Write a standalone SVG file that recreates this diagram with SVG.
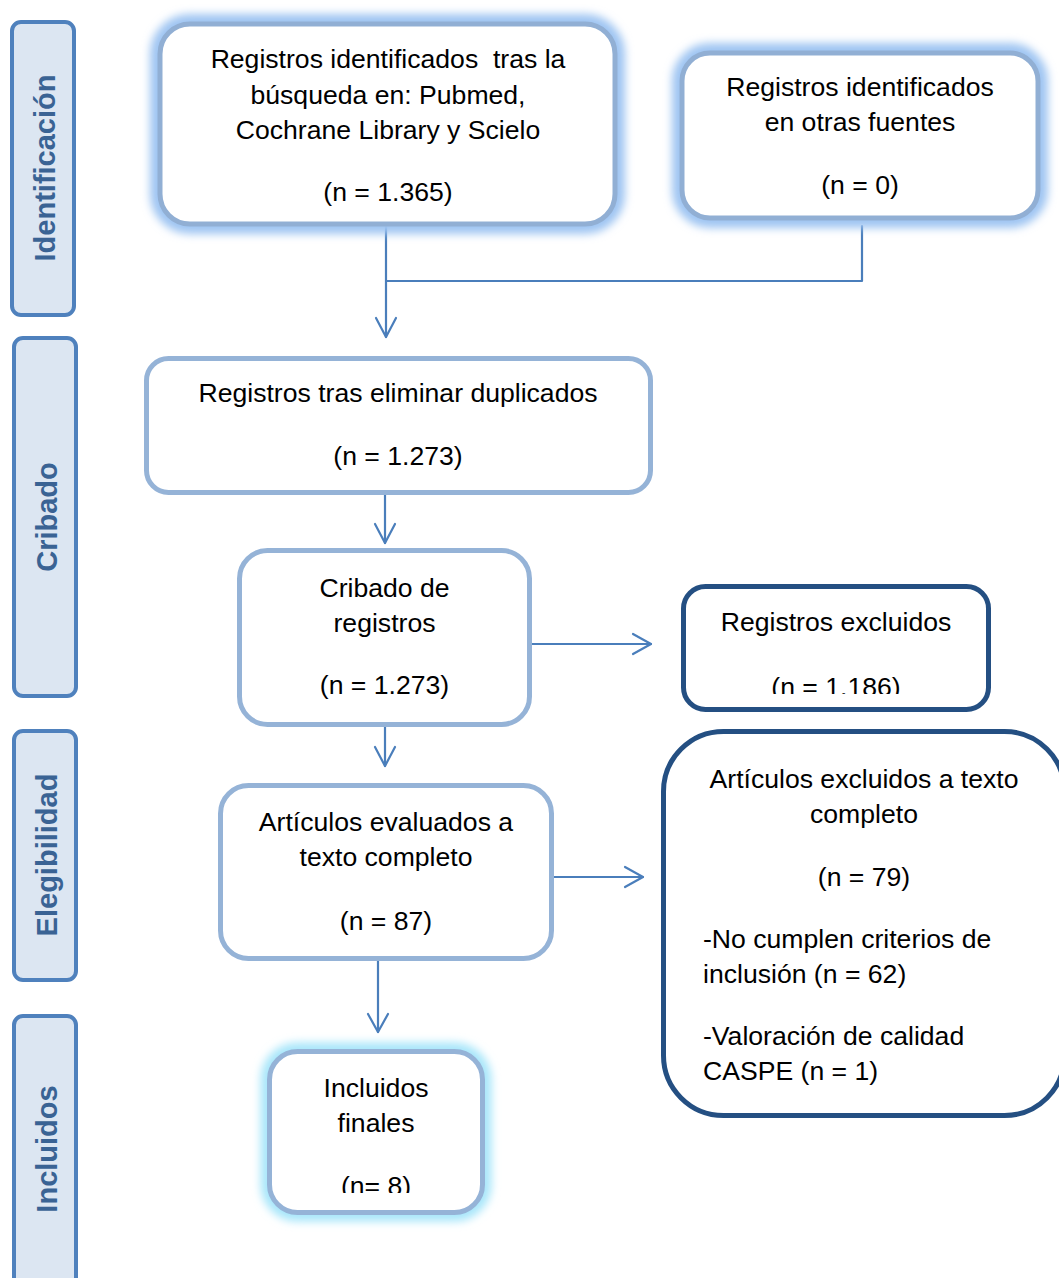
<svg xmlns="http://www.w3.org/2000/svg" width="1059" height="1278" viewBox="0 0 1059 1278">
<defs>
<style>
.t{font-family:"Liberation Sans",Arial,sans-serif;font-size:26.6px;fill:#000;}
.m{text-anchor:middle;}
.side rect{fill:#dce6f2;stroke:#4f81bd;stroke-width:4;}
.side text{font-family:"Liberation Sans",Arial,sans-serif;font-size:29px;font-weight:bold;fill:#3a6394;text-anchor:middle;}
.box{fill:#fff;stroke:#95b3d7;stroke-width:5;}
.dark{fill:#fff;stroke:#244f82;stroke-width:5;}
.conn{fill:none;stroke:#4a7ebb;stroke-width:2.2;stroke-linecap:round;stroke-linejoin:round;}
</style>
<filter id="blur" x="-20%" y="-20%" width="140%" height="140%"><feGaussianBlur stdDeviation="4.5"/></filter>
<clipPath id="c5"><rect x="680" y="580" width="320" height="114"/></clipPath>
<clipPath id="c8"><rect x="260" y="1040" width="240" height="153"/></clipPath>
</defs>
<rect width="1059" height="1278" fill="#fff"/>

<g id="side-identificacion" class="side"><rect x="12" y="22" width="62" height="293" rx="9"/><text transform="translate(55,168) rotate(-90)">Identificación</text></g>
<g id="side-cribado" class="side"><rect x="14" y="338" width="62" height="358" rx="9"/><text transform="translate(57,517) rotate(-90)">Cribado</text></g>
<g id="side-elegibilidad" class="side"><rect x="14" y="731" width="62" height="249" rx="9"/><text transform="translate(57,855) rotate(-90)">Elegibilidad</text></g>
<g id="side-incluidos" class="side"><rect x="14" y="1016" width="62" height="290" rx="9"/><text transform="translate(56.5,1149) rotate(-90)">Incluidos</text></g>

<g id="connectors" class="conn">
<path d="M386 226 V337"/>
<path d="M376 318 L386 337 L396 318"/>
<path d="M386 281 H862 V226"/>
<path d="M385 495 V543"/>
<path d="M375 524 L385 543 L395 524"/>
<path d="M532 644 H651"/>
<path d="M633 634 L651 644 L633 654"/>
<path d="M385 727 V766"/>
<path d="M375 747 L385 766 L395 747"/>
<path d="M554 877 H643"/>
<path d="M625 867 L643 877 L625 887"/>
<path d="M378 961 V1032"/>
<path d="M368 1014 L378 1032 L388 1014"/>
</g>

<g id="n1">
<rect x="160" y="24" width="455" height="200" rx="30" fill="none" stroke="#9fc5f2" stroke-width="20" filter="url(#blur)"/>
<rect class="box" x="160" y="24" width="455" height="200" rx="30" style="stroke:#91afd4"/>
<text class="t m" x="388" y="68">Registros identificados&#160; tras la</text>
<text class="t m" x="388" y="103.5">búsqueda en: Pubmed,</text>
<text class="t m" x="388" y="139">Cochrane Library y Scielo</text>
<text class="t m" x="388" y="201">(n = 1.365)</text>
</g>

<g id="n2">
<rect x="682" y="53" width="356" height="165" rx="28" fill="none" stroke="#9fc5f2" stroke-width="20" filter="url(#blur)"/>
<rect class="box" x="682" y="53" width="356" height="165" rx="28" style="stroke:#91afd4"/>
<text class="t m" x="860" y="96">Registros identificados</text>
<text class="t m" x="860" y="131">en otras fuentes</text>
<text class="t m" x="860" y="194">(n = 0)</text>
</g>

<g id="n3">
<rect class="box" x="146.5" y="358.5" width="504" height="134" rx="22"/>
<text class="t m" x="398" y="402">Registros tras eliminar duplicados</text>
<text class="t m" x="398" y="465">(n = 1.273)</text>
</g>

<g id="n4">
<rect class="box" x="239.5" y="550.5" width="290" height="174" rx="28"/>
<text class="t m" x="384.5" y="597">Cribado de</text>
<text class="t m" x="384.5" y="632">registros</text>
<text class="t m" x="384.5" y="694">(n = 1.273)</text>
</g>

<g id="n5">
<rect class="dark" x="683.5" y="586.5" width="305" height="123" rx="22"/>
<text class="t m" x="836" y="631">Registros excluidos</text>
<text class="t m" x="836" y="696" clip-path="url(#c5)">(n = 1.186)</text>
</g>

<g id="n6">
<rect class="box" x="220.5" y="785.5" width="331" height="173" rx="28"/>
<text class="t m" x="386" y="831">Artículos evaluados a</text>
<text class="t m" x="386" y="866">texto completo</text>
<text class="t m" x="386" y="930">(n = 87)</text>
</g>

<g id="n7">
<rect class="dark" x="663.5" y="731.5" width="401" height="384" rx="60"/>
<text class="t m" x="864" y="788">Artículos excluidos a texto</text>
<text class="t m" x="864" y="823">completo</text>
<text class="t m" x="864" y="886">(n = 79)</text>
<text class="t" x="703" y="948">-No cumplen criterios de</text>
<text class="t" x="703" y="983">inclusión (n = 62)</text>
<text class="t" x="703" y="1045">-Valoración de calidad</text>
<text class="t" x="703" y="1080">CASPE (n = 1)</text>
</g>

<g id="n8">
<rect x="269.5" y="1051.5" width="213" height="161" rx="28" fill="none" stroke="#a8e6fa" stroke-width="18" filter="url(#blur)"/>
<rect class="box" x="269.5" y="1051.5" width="213" height="161" rx="28"/>
<text class="t m" x="376" y="1097">Incluidos</text>
<text class="t m" x="376" y="1132">finales</text>
<text class="t m" x="376" y="1195" clip-path="url(#c8)">(n= 8)</text>
</g>
</svg>
